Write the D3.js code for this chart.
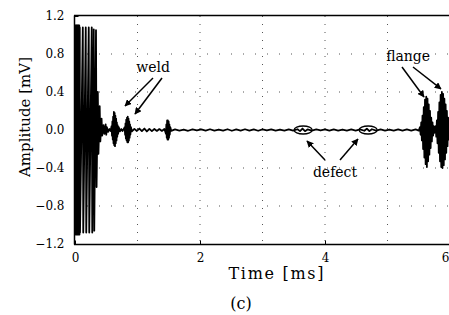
<!DOCTYPE html>
<html><head><meta charset="utf-8">
<script src="https://cdn.jsdelivr.net/npm/d3@7"></script>
<style>
html,body{margin:0;padding:0;background:#fff;}
svg{display:block;}
text{font-family:"DejaVu Serif","Liberation Serif",serif;fill:#000;}
</style></head>
<body>
<svg id="chart" width="449" height="315"></svg>
<script>
// ---- data ----
const xTicks = [0, 2, 4, 6];
const yTicks = [-1.2, -0.8, -0.4, 0.0, 0.4, 0.8, 1.2];
const xGrid = [1, 2, 3, 4, 5];
const yGrid = [-0.8, -0.4, 0.4, 0.8];

// [time ms, amplitude mV]
const initialBurst = [
  [0,0],[0.004,1.1],[0.008,-1.1],[0.012,1.1],[0.016,-1.1],[0.02,1.1],[0.024,-1.1],[0.028,1.1],
  [0.032,-1.1],[0.036,1.1],[0.04,-1.1],[0.044,1.1],[0.048,-1.1],[0.052,1.1],[0.056,-1.1],[0.06,1.1],
  [0.064,-1.1],[0.068,1.1],[0.072,-1.1],[0.076,1.08],[0.08,-1.08],
  [0.125,1.08],[0.132,-1.08],[0.172,1.08],[0.18,-1.08],[0.22,1.08],[0.228,-1.08],[0.268,1.08],
  [0.276,-1.08],[0.30,1.06],[0.308,-1.06],[0.336,1.05],[0.345,-0.6],[0.365,0.4],[0.375,-0.25],
  [0.395,0.25],[0.405,-0.12],[0.425,0.12],[0.435,-0.06],[0.455,0.05],[0.47,-0.04],[0.49,0.06],
  [0.5,-0.05],[0.51,0.03],[0.53,-0.02],[0.55,0.01],[0.57,-0.01]
];
const weldEchoes = [
  [0.585,0.04],[0.592,-0.06],[0.598,0.09],[0.604,-0.1],[0.61,0.14],[0.616,-0.14],[0.622,0.19],
  [0.628,-0.16],[0.634,0.18],[0.64,-0.17],[0.646,0.15],[0.652,-0.14],[0.658,0.12],[0.664,-0.11],
  [0.67,0.08],[0.676,-0.07],[0.682,0.05],[0.69,-0.04],[0.7,0.03],[0.72,-0.015],[0.74,0.01],
  [0.76,-0.01],[0.78,0.01],
  [0.795,0.03],[0.802,-0.05],[0.808,0.07],[0.814,-0.09],[0.82,0.11],[0.826,-0.11],[0.832,0.13],
  [0.838,-0.13],[0.844,0.14],[0.85,-0.13],[0.856,0.12],[0.862,-0.11],[0.868,0.09],[0.874,-0.08],
  [0.88,0.06],[0.886,-0.05],[0.895,0.03],[0.91,-0.015],
  [0.95,0.012],[0.99,-0.01],[1.03,0.015],[1.07,-0.012],[1.11,0.015],[1.15,-0.015],[1.19,0.012],
  [1.23,-0.012],[1.27,0.01],[1.31,-0.01],[1.35,0.01],[1.39,-0.01],[1.43,0.01],
  [1.455,-0.04],[1.462,0.06],[1.468,-0.08],[1.474,0.1],[1.48,-0.1],[1.486,0.1],[1.492,-0.1],
  [1.498,0.09],[1.504,-0.08],[1.51,0.06],[1.516,-0.05],[1.525,0.03],[1.54,-0.01]
];
const baselineNoise = [
  [1.6,0.006],[1.67,-0.006],[1.74,0.005],[1.81,-0.008],[1.88,0.006],[1.95,-0.005],[2.02,0.006],
  [2.09,-0.006],[2.16,0.008],[2.23,-0.006],[2.3,0.005],[2.37,-0.006],[2.44,0.008],[2.51,-0.008],
  [2.58,0.006],[2.65,-0.006],[2.72,0.008],[2.79,-0.006],[2.86,0.006],[2.93,-0.008],[3.0,0.006],
  [3.07,-0.005],[3.14,0.006],[3.21,-0.006],[3.28,0.005],[3.35,-0.006],[3.42,0.006],[3.49,-0.006],
  [3.56,0.008],[3.6,-0.012],[3.64,0.015],[3.68,-0.012],[3.72,0.006],[3.79,-0.006],[3.86,0.006],
  [3.93,-0.005],[4.0,0.006],[4.07,-0.006],[4.14,0.006],[4.21,-0.006],[4.28,0.005],[4.35,-0.006],
  [4.42,0.006],[4.49,-0.006],[4.56,0.006],[4.63,-0.008],[4.67,0.015],[4.71,-0.012],[4.75,0.008],
  [4.82,-0.006],[4.89,0.006],[4.96,-0.006],[5.03,0.005],[5.1,-0.006],[5.17,0.006],[5.24,-0.006],
  [5.31,0.006],[5.38,-0.006],[5.45,0.006],[5.5,-0.006]
];
const flangeEchoes = [
  [5.52,0.03],[5.53,-0.05],[5.54,0.08],[5.55,-0.11],[5.56,0.15],[5.57,-0.2],[5.58,0.24],
  [5.59,-0.29],[5.6,0.32],[5.61,-0.36],[5.62,0.35],[5.63,-0.39],[5.64,0.33],[5.65,-0.33],
  [5.66,0.27],[5.67,-0.26],[5.68,0.2],[5.69,-0.19],[5.70,0.13],[5.71,-0.12],[5.72,0.08],
  [5.73,-0.06],[5.74,0.04],[5.75,-0.03],
  [5.77,0.04],[5.78,-0.07],[5.79,0.1],[5.8,-0.14],[5.81,0.19],[5.82,-0.24],[5.83,0.29],
  [5.84,-0.33],[5.85,0.37],[5.86,-0.39],[5.87,0.4],[5.88,-0.4],[5.89,0.38],[5.9,-0.37],
  [5.91,0.33],[5.92,-0.31],[5.93,0.27],[5.94,-0.24],[5.95,0.2],[5.96,-0.17],[5.97,0.13],
  [5.98,-0.1],[5.99,0.07],[6.0,-0.05]
];

// annotations (data units)
const labels = [
  {text:"weld",   t:1.25, a:0.61},
  {text:"defect", t:4.16, a:-0.495},
  {text:"flange", t:5.33, a:0.725}
];
const arrows = [
  {t0:1.248, a0:0.547, t1:0.80, a1:0.253},
  {t0:1.392, a0:0.547, t1:0.96, a1:0.168},
  {t0:4.00,  a0:-0.316, t1:3.712, a1:-0.116},
  {t0:4.24,  a0:-0.316, t1:4.528, a1:-0.095},
  {t0:5.232, a0:0.663, t1:5.584, a1:0.347},
  {t0:5.408, a0:0.663, t1:5.856, a1:0.432}
];
const defectMarks = [[3.65, 0], [4.69, 0]];

// ---- drawing ----
const svg = d3.select("#chart");
const x = d3.scaleLinear().domain([0, 6]).range([75, 450]);
const y = d3.scaleLinear().domain([-1.2, 1.2]).range([244, 16]);

svg.append("defs").append("clipPath").attr("id","clip")
  .append("rect").attr("x",75).attr("y",14).attr("width",374).attr("height",232);
const mk = svg.select("defs").append("marker").attr("id","ah")
  .attr("viewBox","0 0 10 10").attr("refX",9).attr("refY",5)
  .attr("markerWidth",7).attr("markerHeight",7).attr("markerUnits","userSpaceOnUse")
  .attr("orient","auto");
mk.append("path").attr("d","M0,0L10,5L0,10z").attr("fill","#000");

// grid
svg.append("g").selectAll("line").data(xGrid).join("line")
  .attr("x1",d=>x(d)).attr("x2",d=>x(d)).attr("y1",y(1.2)).attr("y2",y(-1.2))
  .attr("stroke","#555").attr("stroke-width",1).attr("stroke-dasharray","1,7");
svg.append("g").selectAll("line").data(yGrid).join("line")
  .attr("x1",x(0)).attr("x2",449).attr("y1",d=>y(d)).attr("y2",d=>y(d))
  .attr("stroke","#555").attr("stroke-width",1).attr("stroke-dasharray","1,11");

// signal
const signal = [].concat(initialBurst, weldEchoes, baselineNoise, flangeEchoes);
const line = d3.line().x(d=>x(d[0])).y(d=>y(d[1]));
svg.append("path").datum(signal).attr("clip-path","url(#clip)")
  .attr("d",line).attr("fill","none").attr("stroke","#000")
  .attr("stroke-width",1.8).attr("stroke-linejoin","round");

// frame
svg.append("line").attr("x1",74.5).attr("x2",74.5).attr("y1",15.5).attr("y2",244.5)
  .attr("stroke","#000").attr("stroke-width",1.5);
svg.append("line").attr("x1",74).attr("x2",449).attr("y1",15.5).attr("y2",15.5)
  .attr("stroke","#000").attr("stroke-width",1.5);
svg.append("line").attr("x1",74).attr("x2",449).attr("y1",244.5).attr("y2",244.5)
  .attr("stroke","#000").attr("stroke-width",1.5);

// axes
const fmt = d3.format(".1f");
const yAxis = d3.axisLeft(y).tickValues(yTicks).tickFormat(fmt).tickSize(-4).tickPadding(10);
const gy = svg.append("g").attr("transform","translate(74.5,0)").call(yAxis);
gy.select(".domain").remove();
gy.selectAll("text").attr("font-family","DejaVu Serif").attr("font-size",12).attr("fill","#000");
gy.selectAll("line").attr("stroke","#000");

const xAxis = d3.axisBottom(x).tickValues(xTicks).tickFormat(d3.format("d")).tickSize(-4).tickPadding(9);
const gx = svg.append("g").attr("transform","translate(0,244.5)").call(xAxis);
gx.select(".domain").remove();
gx.selectAll("text").attr("font-family","DejaVu Serif").attr("font-size",12).attr("fill","#000");
gx.selectAll("line").attr("stroke","#000");
gx.selectAll(".tick text").filter(d=>d===6).attr("text-anchor","end").attr("dx",-1);

// axis titles
svg.append("text").attr("transform","translate(30,117) rotate(-90)")
  .attr("text-anchor","middle").attr("font-size",15).text("Amplitude [mV]");
svg.append("text").attr("x",276).attr("y",279).attr("text-anchor","middle")
  .attr("font-size",16).attr("textLength",95).attr("lengthAdjust","spacing").text("Time [ms]");
svg.append("text").attr("x",241).attr("y",309).attr("text-anchor","middle")
  .attr("font-size",16).text("(c)");

// annotations
svg.append("g").selectAll("text").data(labels).join("text")
  .attr("x",d=>x(d.t)).attr("y",d=>y(d.a)).attr("text-anchor","middle")
  .attr("font-size",14).text(d=>d.text);
svg.append("g").selectAll("line").data(arrows).join("line")
  .attr("x1",d=>x(d.t0)).attr("y1",d=>y(d.a0)).attr("x2",d=>x(d.t1)).attr("y2",d=>y(d.a1))
  .attr("stroke","#000").attr("stroke-width",1.5).attr("marker-end","url(#ah)");
svg.append("g").selectAll("ellipse").data(defectMarks).join("ellipse")
  .attr("cx",d=>x(d[0])).attr("cy",d=>y(d[1])).attr("rx",9).attr("ry",4)
  .attr("fill","none").attr("stroke","#000").attr("stroke-width",1.3);
</script>
</body></html>
